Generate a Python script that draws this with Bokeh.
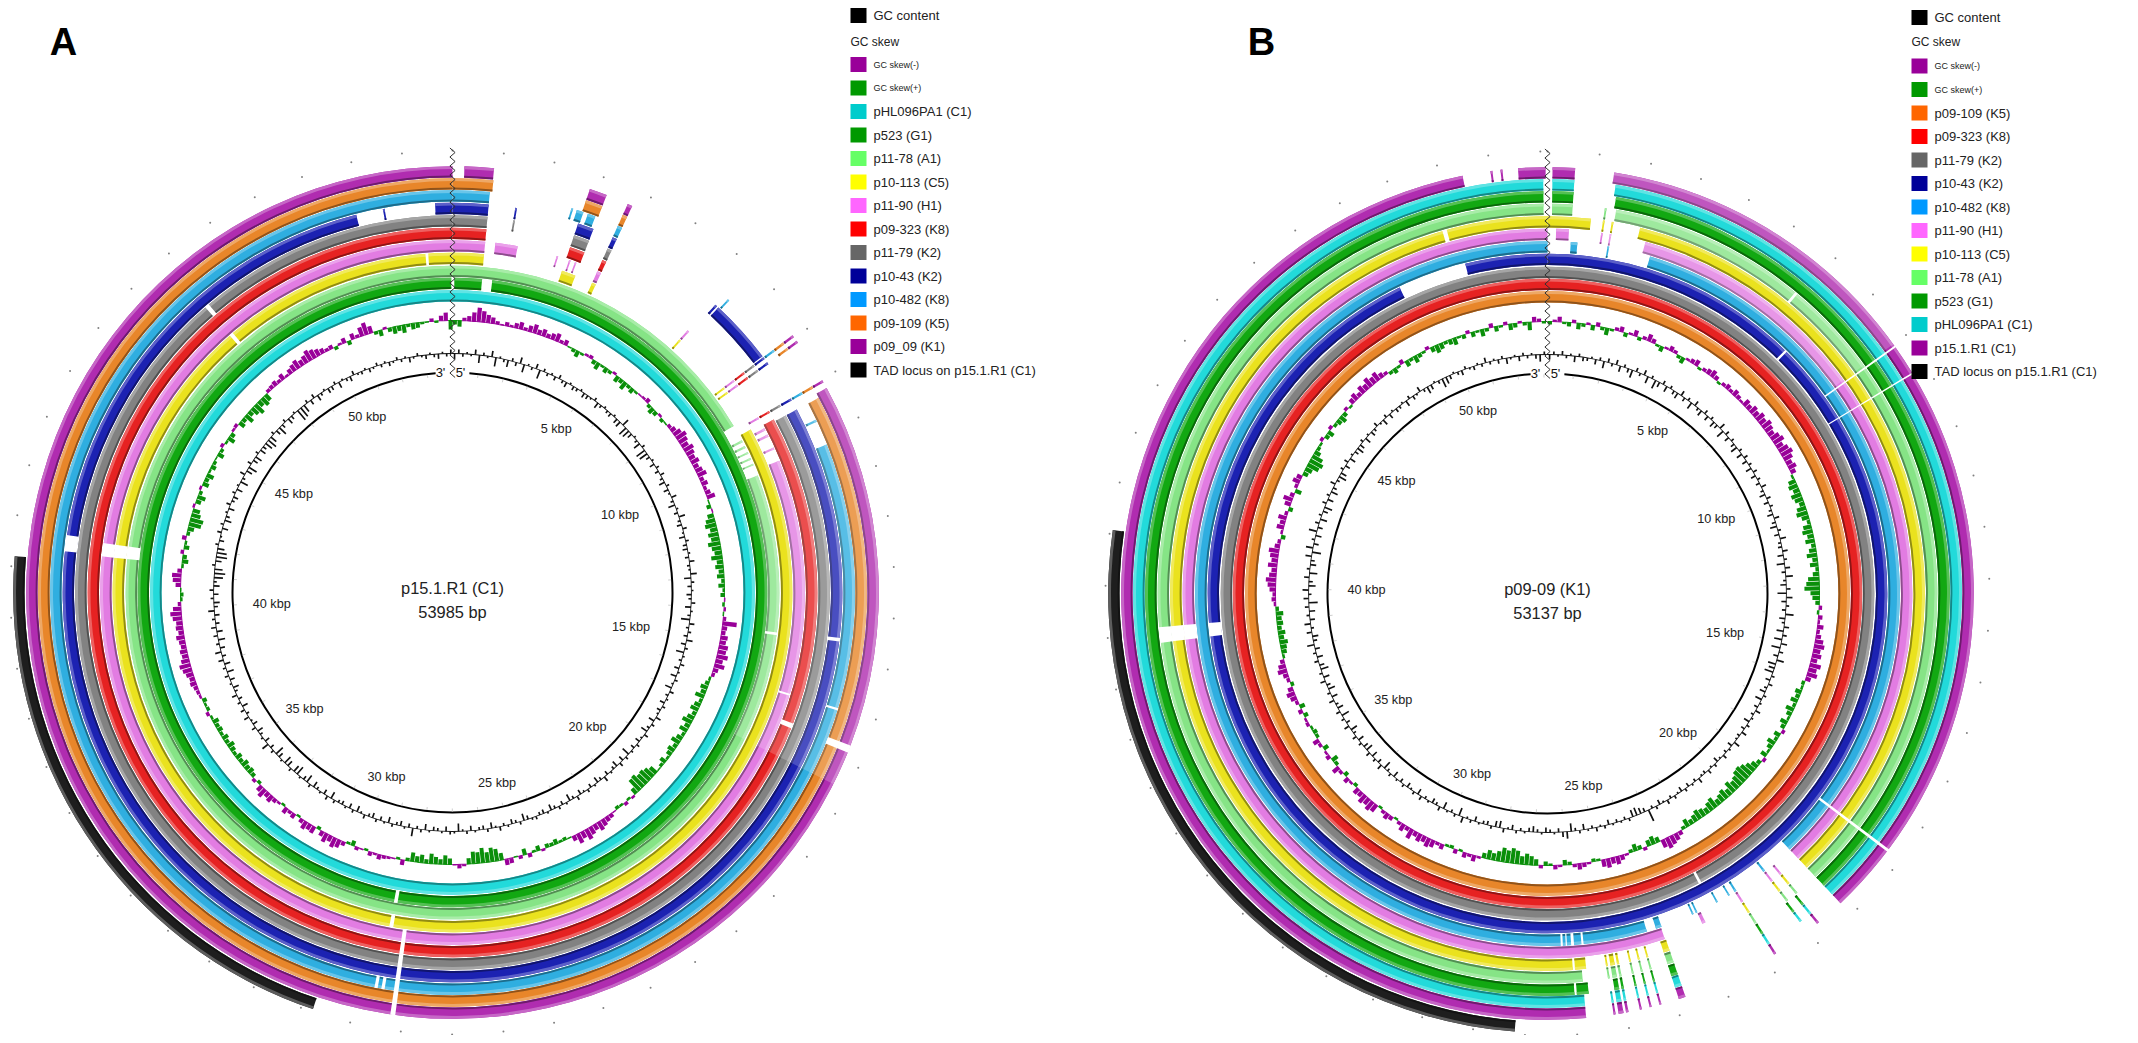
from math import pi
import numpy as np
from bokeh.plotting import figure
from bokeh.models import ColumnDataSource, Range1d
from bokeh.core.properties import value
from bokeh.embed import file_html
from bokeh.resources import INLINE

FONT = "Liberation Sans"
BIN_KBP = 0.15

LEN_A = 53.985
LEN_B = 53.137
TITLE_A = ["p15.1.R1 (C1)", "53985 bp"]
TITLE_B = ["p09-09 (K1)", "53137 bp"]
TICK_KBP = [5, 10, 15, 20, 25, 30, 35, 40, 45, 50]

RING_COLOR = {"cyan": "#22DADA", "green": "#12A812", "lime": "#86E486", "yellow": "#EAE21E",
              "pink": "#E27CE2", "red": "#E62222", "gray": "#828282", "navy": "#1C22B2",
              "blue": "#2FAEE0", "orange": "#E8862A", "purple": "#B02CB0", "black": "#1E1E1E"}
ORDER_A = ["cyan", "green", "lime", "yellow", "pink", "red", "gray", "navy", "blue", "orange", "purple", "black"]
ORDER_B = ["orange", "red", "gray", "navy", "blue", "pink", "yellow", "lime", "green", "cyan", "purple", "black"]

LEGEND_A = [("pHL096PA1 (C1)", "#00CCCC"), ("p523 (G1)", "#009900"), ("p11-78 (A1)", "#66FF66"),
            ("p10-113 (C5)", "#FFFF00"), ("p11-90 (H1)", "#FF66FF"), ("p09-323 (K8)", "#FF0000"),
            ("p11-79 (K2)", "#666666"), ("p10-43 (K2)", "#000099"), ("p10-482 (K8)", "#0099FF"),
            ("p09-109 (K5)", "#FF6600"), ("p09_09 (K1)", "#990099"), ("TAD locus on p15.1.R1 (C1)", "#000000")]
LEGEND_B = [("p09-109 (K5)", "#FF6600"), ("p09-323 (K8)", "#FF0000"), ("p11-79 (K2)", "#666666"),
            ("p10-43 (K2)", "#000099"), ("p10-482 (K8)", "#0099FF"), ("p11-90 (H1)", "#FF66FF"),
            ("p10-113 (C5)", "#FFFF00"), ("p11-78 (A1)", "#66FF66"), ("p523 (G1)", "#009900"),
            ("pHL096PA1 (C1)", "#00CCCC"), ("p15.1.R1 (C1)", "#990099"), ("TAD locus on p15.1.R1 (C1)", "#000000")]

# aligned stretches per ring, kbp
SEG_A = {
    "cyan": [(0, 53.985)],
    "green": [(0.05, 0.81), (1.09, 53.95)],
    "lime": [(0, 8.9), (10.35, 53.985)],
    "yellow": [(0, 0.8), (9.2, 53.985)],
    "pink": [(0, 0.8), (10.2, 53.985)],
    "red": [(0, 0.8), (9.25, 53.985)],
    "gray": [(0, 0.8), (9.3, 53.985)],
    "navy": [(0, 0.8), (9.3, 51.84), (53.6, 53.985)],
    "blue": [(0, 0.8), (10.26, 53.985)],
    "orange": [(0, 0.85), (9.3, 53.985)],
    "purple": [(0.24, 0.84), (9.2, 53.985)],
    "black": [(29.77, 41.2)],
}
SEG_B = {
    "orange": [(0, 53.137)],
    "red": [(0, 53.137)],
    "gray": [(0, 53.137)],
    "navy": [(0, 49.33), (51.07, 53.137)],
    "blue": [(2.5, 20.16), (24.15, 53.137)],
    "pink": [(2.3, 20.16), (23.8, 53.137)],
    "yellow": [(0, 0.98), (2.1, 20.16), (25.7, 25.95), (26.0, 53.137)],
    "lime": [(0.1, 0.55), (1.5, 20.16), (25.8, 53.05)],
    "green": [(0.1, 0.55), (1.45, 20.16), (25.7, 25.95), (26.0, 53.05)],
    "cyan": [(0.1, 0.55), (1.4, 20.16), (25.8, 53.05)],
    "purple": [(0.1, 0.55), (1.33, 20.16), (25.8, 51.44), (52.55, 53.1)],
    "black": [(27.2, 41.08)],
}
# short pieces outside the stretches: (start, end, rings)
FRAG_A = [(2.82, 3.18, ["purple", "orange", "navy", "gray", "red", "yellow"]),
          (2.7, 2.85, ["blue"]), (2.95, 3.12, ["blue"]), (3.64, 3.74, ["purple", "orange", "blue", "navy", "gray", "red", "pink", "yellow"]),
          (2.58, 2.62, ["blue", "pink"]), (2.9, 2.94, ["pink"]), (3.05, 3.09, ["pink"]),
          (1.39, 1.43, ["navy", "gray"]), (1.05, 1.6, ["pink"]), (52.44, 52.48, ["navy"]),
          (6.45, 7.9, ["navy"]), (6.36, 6.41, ["navy"]), (6.48, 6.52, ["blue"]),
          (6.28, 6.33, ["yellow", "pink"]),
          (7.93, 7.98, ["yellow", "pink", "red", "gray", "navy", "blue", "orange", "purple"]),
          (8.07, 8.12, ["yellow", "pink", "red", "gray", "navy", "orange", "purple"]),
          (9.02, 9.07, ["purple", "orange", "blue", "navy", "gray", "red", "pink"]),
          (9.33, 9.39, ["lime", "pink"]), (9.5, 9.56, ["lime", "pink"]), (9.68, 9.73, ["lime", "blue"]),
          (9.85, 9.9, ["lime", "pink"]), (10.02, 10.06, ["lime"])]
FRAG_B = [(52.0, 52.04, ["purple"]), (52.2, 52.24, ["purple"]), (50.18, 50.22, ["blue"]),
          (0.56, 0.72, ["blue"]), (0.2, 0.5, ["pink"]), (1.25, 1.29, ["lime", "yellow", "pink"]), (1.45, 1.49, ["yellow", "pink", "blue"]),
          (23.78, 23.92, ["blue", "yellow", "lime", "green", "cyan", "purple"]),
          (22.85, 22.89, ["blue"]), (22.95, 22.99, ["blue"]), (22.78, 22.86, ["pink"]),
          (25.21, 25.25, ["yellow", "lime", "cyan", "purple"]), (25.05, 25.15, ["yellow", "lime", "green", "cyan", "purple"]),
          (24.95, 25.0, ["yellow", "lime", "green", "cyan", "purple"]), (24.68, 24.72, ["yellow", "lime", "green", "cyan", "purple"]),
          (24.48, 24.52, ["yellow", "lime", "green", "cyan", "purple"]), (24.28, 24.32, ["yellow", "lime", "green", "cyan", "purple"]),
          (21.78, 21.83, ["blue", "pink", "yellow", "lime", "green", "cyan", "purple"]),
          (22.3, 22.34, ["blue"]), (21.97, 22.01, ["blue"]),
          (20.94, 20.99, ["blue", "pink", "yellow", "lime"]), (20.68, 20.73, ["pink", "yellow", "lime"]),
          (20.98, 21.03, ["green", "cyan"]), (20.73, 20.78, ["green", "cyan", "purple"])]
# narrow breaks through rings: (start, end, rings)
NICK_A = [(14.55, 14.62, ["lime"]), (14.5, 14.58, ["navy"]), (16.0, 16.05, ["pink", "blue"]),
          (16.65, 16.77, ["red"]), (16.65, 16.8, ["orange", "purple"]), (28.5, 28.6, ["green", "yellow"]),
          (28.15, 28.25, ["pink", "red", "gray", "navy", "blue", "orange", "purple"]),
          (28.45, 28.52, ["blue"]), (28.6, 28.67, ["blue"]), (41.37, 41.7, ["lime", "yellow", "pink"]),
          (41.4, 41.76, ["navy"]), (47.85, 47.95, ["yellow", "gray"]), (53.3, 53.37, ["yellow"])]
NICK_B = [(5.82, 5.88, ["lime"]), (6.54, 6.6, ["navy"]), (8.04, 8.08, ["blue", "pink", "yellow", "lime", "green", "cyan", "purple"]),
          (8.68, 8.71, ["navy", "blue", "pink", "yellow", "lime", "green", "cyan", "purple"]),
          (18.72, 18.78, ["blue", "pink", "yellow", "lime", "green", "cyan", "purple"]),
          (22.43, 22.5, ["gray"]), (25.7, 25.75, ["blue"]), (25.93, 26.0, ["blue"]), (26.1, 26.13, ["blue"]), (26.2, 26.25, ["blue"]),
          (38.78, 39.12, ["lime", "yellow", "pink", "navy"]), (50.75, 50.85, ["yellow"])]
# stretches with the paler shade
PALE_A = (9.2, 17.5, ["navy", "gray", "red", "pink", "blue", "orange", "purple", "lime"])
PALE_B = (1.3, 8.0, ["purple", "lime", "pink"])

# GC skew per 150 bp: + purple outward, - green inward
SKEW_A = [
    -4,-6,3,5,9,14,11,8,6,3,1,4,2,5,7,3,6,9,5,7,
    4,6,8,3,5,-1,-3,-6,-2,2,3,-4,-7,-2,-5,-3,2,-6,-4,-8,
    -3,-5,-2,1,2,4,-3,-6,-4,2,-3,-1,3,5,8,11,9,7,10,8,
    6,8,5,7,9,4,6,3,5,8,-1,-4,1,-6,-9,-11,-7,-10,-8,-12,
    -9,-7,-11,-6,-8,-5,-7,-3,-6,-2,-4,1,-2,2,-1,3,14,5,4,7,
    6,9,8,11,7,10,5,3,-2,-4,-7,-5,-9,-3,-6,-8,-4,-7,-10,-5,
    -8,-3,-6,-9,-4,-7,-5,-2,-6,-3,-1,-8,-11,-13,-12,-15,-14,-6,2,-2,
    3,-2,-3,1,4,5,7,9,6,8,11,7,10,5,-1,-3,-2,-5,-3,-4,
    2,-5,-2,4,-6,3,-1,5,6,-7,-12,-14,-10,-15,-11,-12,-6,2,4,1,
    -6,-9,-5,-7,-10,-4,-8,-6,-9,-3,5,-2,1,2,3,5,2,4,-2,1,
    3,-5,-2,4,8,10,6,9,5,-3,7,6,8,4,-2,5,3,6,-2,2,
    4,7,5,9,6,-3,3,-4,-6,-5,-7,-4,-6,-3,-5,-7,-4,-6,-3,-5,
    -4,-6,-2,3,-3,-2,-4,2,3,4,6,5,7,9,11,8,6,7,5,6,
    8,5,7,6,9,11,8,3,-2,-3,-1,5,8,9,4,-2,-6,-4,3,-5,
    -2,4,-3,-6,-12,-13,-9,-7,2,-5,-8,-3,2,-6,-4,-7,-2,-5,-3,-1,
    -6,-3,3,-2,-7,-4,2,3,-6,-4,-9,-5,-8,-11,-6,-9,-7,3,4,5,
    3,6,2,5,7,9,6,8,11,9,7,5,3,4,-3,2,5,-4,6,3,
    9,12,7,-3,-6,2,-4,-7,-5,-8,-3,-6,-5,-2,-1,3,-2,5,8,-9,
]
SKEW_B = [
    -3,2,5,-2,-4,3,-6,-3,2,-5,4,-3,-7,-2,3,5,-4,2,6,-3,
    3,7,4,-2,-5,2,5,3,-3,-6,2,4,6,-2,3,5,7,4,-2,3,
    5,3,6,4,2,7,5,8,6,9,7,10,8,6,9,11,7,10,12,9,
    6,8,5,-2,-7,-9,-6,-10,-8,-5,-9,-11,-7,-3,-8,-10,-6,-9,-4,-7,
    -10,-5,-8,-3,-6,-11,-13,-15,-9,-7,-4,3,-2,4,2,6,3,5,8,10,
    7,9,6,11,8,10,5,-3,-2,-6,-4,-7,-3,-8,-5,-2,-7,-4,3,-6,
    -3,-8,-5,-2,-6,3,-4,-7,-10,-13,-15,-14,-11,-9,-12,-7,-10,-8,-6,-11,
    -9,-6,-8,-10,-7,-5,-8,-3,4,7,9,11,8,-5,-8,-6,3,-4,-7,-3,
    2,5,8,6,9,7,-2,-3,2,4,6,3,-3,-5,2,4,-2,-4,3,-6,
    -9,-11,-8,-13,-15,-12,-14,-10,-7,-9,-5,2,6,3,5,-2,4,-3,-2,5,
    3,7,9,6,8,5,10,4,7,3,-2,4,6,3,-2,8,10,7,9,5,
    6,-3,2,5,-4,3,7,-3,-6,4,2,-5,3,6,-3,-4,-2,3,2,-4,
    4,-5,3,6,8,5,-3,3,5,9,7,4,-2,-5,-6,-8,-5,-7,-4,-6,
    -5,-7,-3,2,4,3,6,8,10,7,5,9,6,8,10,5,3,-4,2,7,
    5,8,3,-4,6,9,4,-6,3,7,5,-5,-7,-12,-14,-11,-6,-3,-2,3,
    -4,-6,3,-3,-5,-7,-4,3,-2,5,7,4,8,6,10,7,9,5,3,-3,
    -5,-2,4,-6,-3,-7,-4,-2,3,-5,-8,-6,-3,-5,-7,-2,-4,3,-5,-2,
    -7,-3,4,-5,-2,3,-6,-4,2,-3,-8,5,3,-2,
]
# GC content per 150 bp, around the mean
GC_A = [
    -6,4,-3,2,-2,5,-8,3,-2,6,-9,2,-3,-7,3,-4,6,-8,2,-3,
    5,-9,3,-3,2,-4,4,-3,-5,2,-4,-3,2,-5,-4,-2,3,-6,-3,2,
    -3,-4,2,-5,-6,7,-9,-8,-5,2,-3,-7,3,-10,-9,-4,2,-5,3,-4,
    4,-3,-6,3,-5,-2,5,-3,-7,2,-4,6,-3,-5,4,-2,-6,3,-4,-5,
    2,-4,5,-3,-2,6,-7,3,-4,2,-5,-3,4,-6,2,-3,-9,5,-3,3,
    -4,6,-5,3,-8,2,-3,4,-5,2,-6,3,-2,-7,4,-3,2,-5,3,-4,
    -2,5,-6,3,-3,-7,4,-2,-5,3,-4,2,-8,3,-5,4,-6,-3,2,-4,
    5,-3,-6,2,-4,3,-2,-5,4,-3,-7,2,-4,3,-3,-6,2,-4,-3,3,
    2,-4,-7,3,-3,-5,2,-3,4,-2,-6,3,-4,-3,2,-5,3,-2,-8,2,
    3,-5,2,-3,-4,2,-6,3,-3,8,-4,2,-5,-3,3,-6,2,-4,3,-5,
    -3,4,-2,-6,3,-5,2,-4,-3,3,-7,4,-5,2,-3,-6,3,-8,-4,2,
    -9,-7,3,-6,-8,2,-5,-9,3,-4,7,-5,2,-3,-6,4,-5,-2,5,-3,
    4,-6,3,-4,5,-3,-6,2,-5,4,-7,3,-6,5,-4,6,-5,3,-7,4,
    -6,5,-4,3,-5,6,-4,-6,3,-5,4,-6,-3,-9,-11,-8,3,-6,-11,-10,
    -7,3,-5,-2,4,-6,3,-7,-4,2,-6,4,-3,-5,3,-6,2,-8,-3,5,
    -6,-9,4,-5,-7,3,-6,-4,-8,-10,-7,3,-5,-9,-4,3,-6,-4,2,-12,
    -11,-8,3,-5,4,-6,-3,2,-5,-4,3,-6,2,-3,-5,4,-2,-3,2,-4,
    -2,3,-3,2,-4,-2,3,-3,2,-5,-2,3,-2,-4,2,-3,-5,2,-3,4,
]
GC_B = [
    -5,3,-2,4,-3,2,-6,3,-4,-3,2,-5,3,-7,4,-3,5,-6,3,-4,
    -8,4,-3,5,-7,3,-9,-5,4,-6,3,-4,-6,5,-4,3,-7,5,-3,-6,
    4,-5,3,-6,-4,6,-8,4,-5,3,-4,-7,3,-6,4,-5,3,-6,4,-5,
    3,-4,5,-3,-6,4,-5,3,-3,-6,5,-4,-7,3,-5,6,-3,-4,5,-6,
    3,-8,5,-4,7,-3,-6,4,-9,6,-5,3,-4,8,-6,-3,5,-7,4,-8,
    6,-9,4,-5,7,-8,-6,-9,3,-5,4,-3,-6,3,-7,2,-4,5,-3,2,
    -6,3,-4,5,-3,-2,6,-5,2,-3,4,-2,-5,3,-2,4,-3,-2,5,-3,
    2,-4,3,-5,-2,3,-3,4,-2,-5,3,-3,12,-4,-6,-8,-7,3,-3,2,
    -3,2,-5,3,-2,4,-3,2,-6,3,-3,-8,7,5,-4,2,-3,-5,2,-3,
    -6,-4,2,-3,3,-5,-2,4,-7,-6,3,-4,-3,2,-5,3,-2,6,-8,3,
    -3,2,-7,4,-3,-5,2,-3,4,-6,3,-2,-5,3,-4,2,-6,3,-3,-8,
    5,-4,3,-6,4,-7,-5,3,-6,4,-3,-7,5,-4,3,-8,4,-6,-3,5,
    -6,3,-7,-4,5,-6,3,-8,-5,4,-6,3,-5,7,-4,-6,5,-3,6,-5,
    3,-6,4,-9,5,-3,6,-7,-4,5,-8,3,-6,-4,6,-9,7,-5,3,-6,
    8,-5,4,-7,3,-5,-8,4,-6,3,-7,-4,5,-3,-8,-6,3,-5,4,-6,
    2,-4,-7,-5,3,-6,2,-5,-3,4,-2,-6,3,-5,2,-4,-3,2,-6,3,
    -4,-2,5,-3,-7,-5,2,-3,-9,-7,-4,2,-3,-5,3,-2,-4,2,-3,5,
    -3,2,-4,3,-6,-2,2,-5,3,-3,2,-4,-7,3,
]

# geometry, in px of the photographed page
W, H = 2130, 1035
CENTER_A = (452, 592)
CENTER_B = (1547, 593)
RING_IN = [291, 303.5, 315.5, 328.5, 341, 353.5, 366, 378.5, 391, 403, 415, 428]
RING_W = 11.3
R_SKEW, R_GC, R_AXIS = 272, 239, 220
R_DOT = 442


def X(v):
    return v


def Y(v):
    return H - v


def tone(hex_color, f):
    c = np.array([int(hex_color[i:i + 2], 16) for i in (1, 3, 5)], float)
    c = c * f if f <= 1 else c + (255 - c) * (f - 1)
    return "#%02x%02x%02x" % tuple(int(round(v)) for v in c)


p = figure(width=W, height=H, x_range=Range1d(0, W), y_range=Range1d(0, H),
           output_backend="svg", toolbar_location=None, min_border=0,
           x_axis_type=None, y_axis_type=None, outline_line_color=None,
           background_fill_color="white", border_fill_color="white")
p.grid.visible = False


def wedges(center, length, rows):
    """rows: (start kbp, end kbp, inner r, outer r, colour, alpha)"""
    if not rows:
        return
    a = np.array([[r[0], r[1], r[2], r[3], r[5]] for r in rows], float)
    src = ColumnDataSource(dict(
        x=[X(center[0])] * len(rows), y=[Y(center[1])] * len(rows),
        a0=pi / 2 - 2 * pi * a[:, 1] / length, a1=pi / 2 - 2 * pi * a[:, 0] / length,
        ri=a[:, 2], ro=a[:, 3], al=a[:, 4], c=[r[4] for r in rows]))
    p.annular_wedge(x="x", y="y", inner_radius="ri", outer_radius="ro", start_angle="a0", end_angle="a1",
                    fill_color="c", fill_alpha="al", line_color=None, source=src)


def ring_rows(order, name, s, e):
    r0 = RING_IN[order.index(name)]
    col = RING_COLOR[name]
    return [(s, e, r0, r0 + RING_W, col, 1),
            (s, e, r0, r0 + 1.9, tone(col, 0.62), 1),
            (s, e, r0 + RING_W - 2.8, r0 + RING_W, tone(col, 1.28), 1)]


def panel(center, length, order, seg, frag, nick, pale, skew, gc, title):
    cx, cy = center
    rows = []
    for name in order:
        for s, e in seg[name]:
            rows += ring_rows(order, name, s, e)
    for s, e, names in frag:
        for name in names:
            rows += ring_rows(order, name, s, e)
    wedges(center, length, rows)
    s, e, names = pale
    wedges(center, length, [(s, e, RING_IN[order.index(n)], RING_IN[order.index(n)] + RING_W, "#ffffff", 0.2) for n in names])
    wedges(center, length, [(s, e, RING_IN[order.index(n)] - 0.6, RING_IN[order.index(n)] + RING_W + 0.6, "#ffffff", 1)
                            for s, e, names in nick for n in names])

    # GC skew and GC content bars
    rows = []
    for i, v in enumerate(skew):
        c = "#990099" if v > 0 else "#0A8F0A"
        mid = (i + 0.5) * BIN_KBP
        rows.append((i * BIN_KBP, (i + 1) * BIN_KBP, R_SKEW - 0.5, R_SKEW + 0.5, c, 1))
        r0, r1 = (R_SKEW, R_SKEW + v) if v > 0 else (R_SKEW + v, R_SKEW)
        rows.append((mid - 0.065, mid + 0.065, r0, r1, c, 1))
    wedges(center, length, rows)
    rows = [(0.0, length, R_GC - 0.4, R_GC + 0.4, "#111111", 1)]
    for i, v in enumerate(gc):
        mid = (i + 0.5) * BIN_KBP
        r0, r1 = (R_GC, R_GC + v) if v > 0 else (R_GC + v, R_GC)
        rows.append((mid - 0.03, mid + 0.03, r0, r1, "#111111", 1))
    wedges(center, length, rows)

    # position circle with its gap at the origin
    gap = length * 4.4 / 360
    wedges(center, length, [(gap, length - gap, R_AXIS - 1, R_AXIS + 1, "#000000", 1)])
    kb = np.arange(1, int(length) + 1)
    th = 2 * pi * kb / length
    p.segment(X(cx) + (R_AXIS - 4) * np.sin(th), Y(cy) + (R_AXIS - 4) * np.cos(th),
              X(cx) + (R_AXIS - 1) * np.sin(th), Y(cy) + (R_AXIS - 1) * np.cos(th),
              line_color="#cfcfcf", line_width=1)
    th = 2 * pi * np.arange(0, int(length) + 1) / length
    p.scatter(X(cx) + R_DOT * np.sin(th), Y(cy) + R_DOT * np.cos(th), size=2,
              marker="circle", fill_color="#808080", line_color=None)

    # kbp labels
    t = 2 * pi * np.array(TICK_KBP) / length
    p.text(X(cx) + 198 * np.sin(t) - 17 * np.sin(t) * np.abs(np.sin(t)), Y(cy) + 196 * np.cos(t),
           text=[f"{k} kbp" for k in TICK_KBP], text_font=value(FONT), text_font_size="12.7px",
           text_color="#222222", text_align="center", text_baseline="middle")
    p.text([X(cx), X(cx)], [Y(cy - 5), Y(cy + 19)], text=title, text_font=value(FONT), text_font_size="16.4px",
           text_color="#222222", text_align="center", text_baseline="middle")
    p.text([X(cx - 12), X(cx + 8)], [Y(cy - 220), Y(cy - 220)], text=["3'", "5'"], text_font=value(FONT),
           text_font_size="13px", text_color="#111111", text_align="center", text_baseline="middle")

    # wavy origin marker
    rr = np.arange(215, 446, 4.5)
    sign = np.where(np.arange(len(rr)) % 2 == 0, 1, -1)
    p.line(X(cx) + 2.6 * sign, Y(cy) + rr, line_color="#333333", line_width=1)


def legend(x0, y_first, y_gc, y_skew, entries):
    ys = [y_first + 23.5 * i for i in range(2 + len(entries))]
    cols = ["#990099", "#009900"] + [e[1] for e in entries]
    labels = ["GC skew(-)", "GC skew(+)"] + [e[0] for e in entries]
    sizes = ["9px", "9px"] + ["13px"] * len(entries)
    all_y = [y_gc] + ys
    all_c = ["#000000"] + cols
    p.rect([X(x0 + 8)] * len(all_y), [Y(v) for v in all_y], width=16, height=15, fill_color=all_c, line_color=None)
    p.text([X(x0 + 23)] * (1 + len(ys)), [Y(v) for v in all_y], text=["GC content"] + labels,
           text_font=value(FONT), text_font_size=["13px"] + sizes, text_color="#222222",
           text_align="left", text_baseline="middle")
    p.text([X(x0)], [Y(y_skew)], text=["GC skew"], text_font=value(FONT), text_font_size="12px",
           text_color="#222222", text_align="left", text_baseline="middle")


panel(CENTER_A, LEN_A, ORDER_A, SEG_A, FRAG_A, NICK_A, PALE_A, SKEW_A, GC_A, TITLE_A)
panel(CENTER_B, LEN_B, ORDER_B, SEG_B, FRAG_B, NICK_B, PALE_B, SKEW_B, GC_B, TITLE_B)
legend(850, 64, 15, 41, LEGEND_A)
legend(1911, 65.5, 17, 41, LEGEND_B)
p.text([X(63), X(1261)], [Y(41), Y(41)], text=["A", "B"], text_font=value(FONT), text_font_size="38px",
       text_font_style="bold", text_color="#000000", text_align="center", text_baseline="middle")

open("out.html", "w").write(file_html(p, INLINE))
